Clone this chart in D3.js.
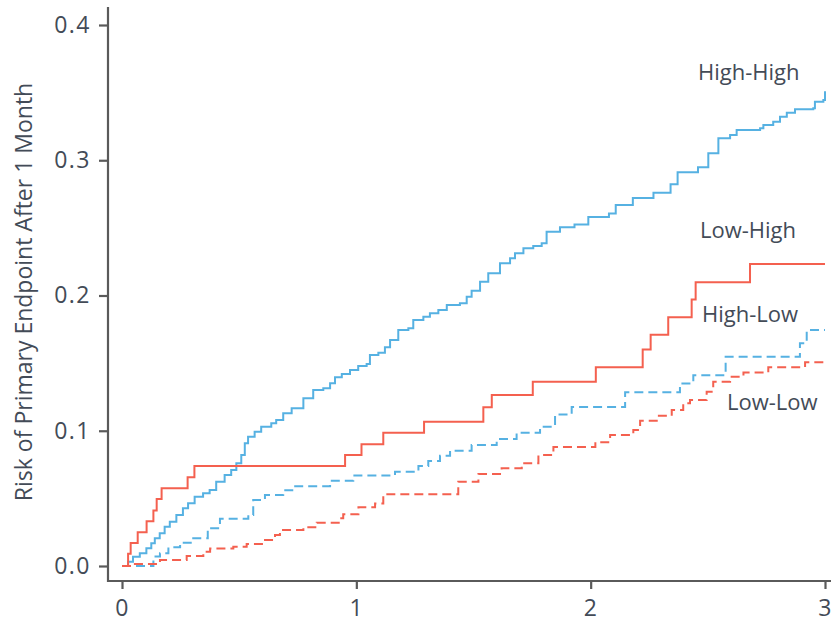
<!DOCTYPE html>
<html>
<head>
<meta charset="utf-8">
<script src="https://cdn.jsdelivr.net/npm/d3@7"></script>
<style>
  body { margin: 0; background: #fff; }
  svg { display: block; font-family: "Open Sans", sans-serif; }
</style>
</head>
<body>
<svg id="chart" width="838" height="627"></svg>
<script>
// cumulative risk curves: time (years) and risk after each step
var highHighT = [0, 0.026, 0.047, 0.076, 0.104, 0.125, 0.140, 0.161, 0.182, 0.204, 0.232, 0.260, 0.282, 0.310, 0.346, 0.374, 0.402, 0.438, 0.466, 0.488, 0.509, 0.524, 0.538, 0.566, 0.594, 0.637, 0.658,
    0.688, 0.724, 0.774, 0.816, 0.859, 0.888, 0.909, 0.938, 0.973, 1.008, 1.044, 1.058, 1.094, 1.122, 1.144, 1.179, 1.222, 1.243, 1.286, 1.314, 1.350, 1.386, 1.442, 1.471, 1.492, 1.528, 1.563, 1.613,
    1.656, 1.677, 1.713, 1.755, 1.791, 1.812, 1.869, 1.931, 1.990,
    2.078, 2.107, 2.180, 2.268, 2.341, 2.371, 2.458, 2.502, 2.545, 2.595, 2.623, 2.723, 2.737, 2.779, 2.808, 2.837, 2.872, 2.950, 2.957, 2.993, 3.0];
var highHighV = [0, 0.0032, 0.0069, 0.0094, 0.0131, 0.0168, 0.0205, 0.0242, 0.0291, 0.0328, 0.0377, 0.0427, 0.0464, 0.0512, 0.0538, 0.0562, 0.0623, 0.0673, 0.071, 0.0759, 0.0821, 0.0907, 0.0956, 0.0993, 0.103, 0.1055, 0.108,
    0.1129, 0.1166, 0.124, 0.1301, 0.1314, 0.1351, 0.1395, 0.142, 0.1449, 0.1479, 0.1494, 0.156, 0.1577, 0.1617, 0.1671, 0.1745, 0.1757, 0.1819, 0.1843, 0.1868, 0.1893, 0.193, 0.1942, 0.1991, 0.2036, 0.2102, 0.2164, 0.2238,
    0.2275, 0.2312, 0.2349, 0.2366, 0.2386, 0.2472, 0.2504, 0.2525, 0.258,
    0.2606, 0.2669, 0.272, 0.2759, 0.2822, 0.2911, 0.2949, 0.3051, 0.3162, 0.3187, 0.3224, 0.3236, 0.3261, 0.3285, 0.3322, 0.3352, 0.3377, 0.3384, 0.3433, 0.3446, 0.351];

var lowHighT = [0, 0.026, 0.037, 0.067, 0.105, 0.134, 0.148, 0.169, 0.280, 0.309, 0.952, 1.022, 1.115, 1.289, 1.542, 1.578, 1.753, 2.022, 2.222, 2.256, 2.331, 2.431, 2.448, 2.680, 3.0];
var lowHighV = [0, 0.009, 0.017, 0.025, 0.033, 0.041, 0.0495, 0.0574, 0.0656, 0.0739, 0.082, 0.090, 0.0986, 0.1067, 0.1173, 0.1264, 0.1363, 0.147, 0.160, 0.171, 0.184, 0.197, 0.2098, 0.2233, 0.2233];

var highLowT = [0, 0.134, 0.162, 0.198, 0.248, 0.304, 0.366, 0.418, 0.539, 0.560, 0.610, 0.688, 0.731, 0.888, 0.987, 1.165, 1.265, 1.307, 1.357, 1.40, 1.492, 1.599, 1.684, 1.784, 1.848, 1.919, 2.147, 2.381, 2.438, 2.576, 2.893, 2.922, 3.0];
var highLowV = [0, 0.007, 0.0094, 0.0138, 0.0172, 0.0205, 0.028, 0.035, 0.0377, 0.0488, 0.0525, 0.056, 0.059, 0.063, 0.0670, 0.0697, 0.074, 0.0776, 0.0816, 0.0853, 0.0895, 0.0939, 0.0986, 0.103, 0.112, 0.1175, 0.1284, 0.135, 0.141, 0.1548, 0.1647, 0.1745, 0.1745];

var lowLowT = [0, 0.055, 0.162, 0.276, 0.347, 0.376, 0.475, 0.532, 0.603, 0.653, 0.674, 0.774, 0.831, 0.930, 0.944, 1.009, 1.080, 1.115, 1.435, 1.521, 1.620, 1.706, 1.777, 1.841, 2.02, 2.083, 2.182, 2.211, 2.282, 2.346, 2.395, 2.424, 2.495, 2.523, 2.595, 2.652, 2.758, 2.915, 3.0];
var lowLowV = [0, 0.0015, 0.0044, 0.0074, 0.0106, 0.013, 0.0143, 0.0163, 0.0192, 0.0229, 0.0266, 0.0286, 0.032, 0.0353, 0.0382, 0.0434, 0.0463, 0.053, 0.0623, 0.068, 0.0722, 0.076, 0.082, 0.088, 0.0915, 0.0969, 0.1006, 0.1074, 0.111, 0.1153, 0.1203, 0.1227, 0.1289, 0.1363, 0.140, 0.143, 0.147, 0.1506, 0.1506];

var xTicks = [0, 1, 2, 3];
var yTicks = [0.0, 0.1, 0.2, 0.3, 0.4];
var seriesNames = ["High-High", "Low-High", "High-Low", "Low-Low"];

var blue = "#56b1e2", red = "#f4604f", axisCol = "#5a5a5a", textCol = "#434b57";

var series = [
    {name: seriesNames[0], t: highHighT, v: highHighV, color: blue, dash: null, lx: 698, ly: 80},
    {name: seriesNames[1], t: lowHighT, v: lowHighV, color: red, dash: null, lx: 700, ly: 238},
    {name: seriesNames[2], t: highLowT, v: highLowV, color: blue, dash: "9,5", lx: 702, ly: 322},
    {name: seriesNames[3], t: lowLowT, v: lowLowV, color: red, dash: "9,5", lx: 727, ly: 410}
];

const svg = d3.select("#chart");

const x = d3.scaleLinear().domain([0, 3]).range([122, 825]),
    y = d3.scaleLinear().domain([0, 0.4]).range([566, 25]);

// axis lines drawn a bit past the data range like the original
svg.append("line")
    .attr("x1", 108).attr("x2", 108).attr("y1", 7).attr("y2", 582)
    .attr("stroke", axisCol).attr("stroke-width", 2.2);
svg.append("line")
    .attr("x1", 107).attr("x2", 831).attr("y1", 581).attr("y2", 581)
    .attr("stroke", axisCol).attr("stroke-width", 2.2);

// y axis ticks + labels
const yAxis = svg.append("g")
    .attr("transform", "translate(108,0)")
    .call(d3.axisLeft(y).tickValues(yTicks).tickFormat(d3.format(".1f")).tickSize(9).tickPadding(8));
yAxis.select(".domain").remove();

// x axis ticks + labels
const xAxis = svg.append("g")
    .attr("transform", "translate(0,581)")
    .call(d3.axisBottom(x).tickValues(xTicks).tickFormat(d3.format("d")).tickSize(8).tickPadding(11));
xAxis.select(".domain").remove();

svg.selectAll(".tick line").attr("stroke", axisCol).attr("stroke-width", 2.2);
svg.selectAll(".tick text")
    .attr("fill", textCol)
    .style("font-size", "23px")
    .style("letter-spacing", "1.5px")
    .style("font-family", "'Open Sans', sans-serif");

// y axis title
svg.append("text")
    .attr("transform", "translate(32,292) rotate(-90)")
    .attr("text-anchor", "middle")
    .attr("fill", textCol)
    .style("font-size", "23px")
    .text("Risk of Primary Endpoint After 1 Month");

// the four step curves
const line = d3.line()
    .x(d => x(d[0]))
    .y(d => y(d[1]))
    .curve(d3.curveStepAfter);

svg.selectAll(".curve")
    .data(series)
    .enter().append("path")
    .attr("class", "curve")
    .attr("fill", "none")
    .attr("stroke", d => d.color)
    .attr("stroke-width", 2)
    .attr("stroke-dasharray", d => d.dash)
    .attr("d", d => line(d.t.map((t, i) => [t, d.v[i]])));

// labels next to the curves
svg.selectAll(".lbl")
    .data(series)
    .enter().append("text")
    .attr("class", "lbl")
    .attr("x", d => d.lx)
    .attr("y", d => d.ly)
    .attr("fill", textCol)
    .style("font-size", "22px")
    .text(d => d.name);
</script>
</body>
</html>
